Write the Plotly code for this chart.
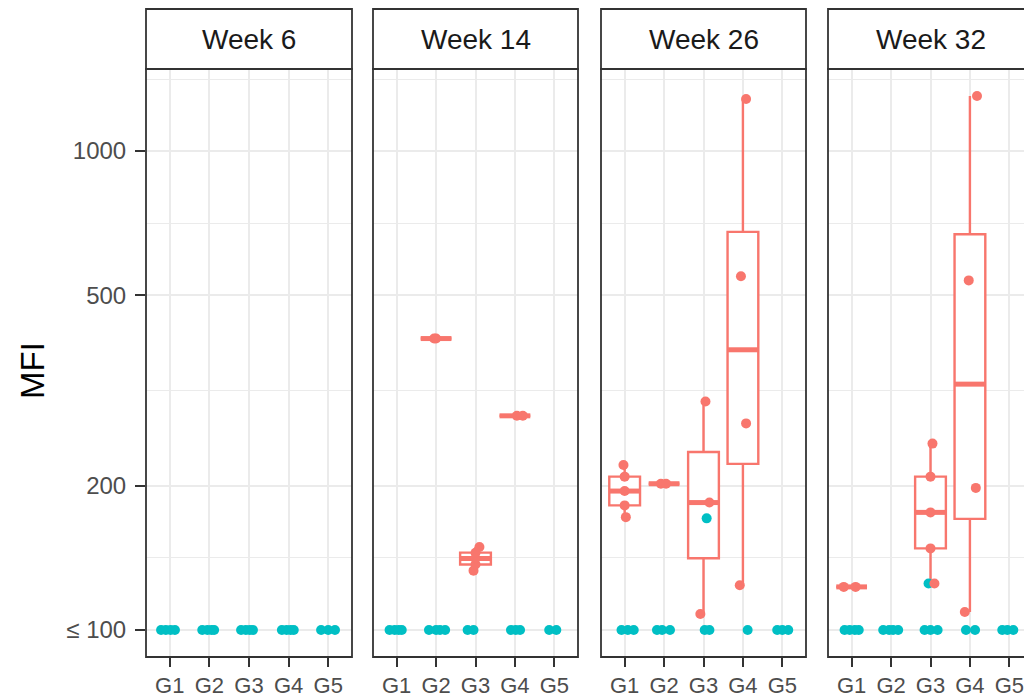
import numpy as np
import plotly.graph_objects as go

WEEKS = ["Week 6", "Week 14", "Week 26", "Week 32"]
GROUPS = ["G1", "G2", "G3", "G4", "G5"]
Y_TICKS = [100, 200, 500, 1000]
Y_TICK_TEXT = ["\u2264 100", "200", "500", "1000"]

# MFI above the detection limit, per group G1..G5 (boxplots + salmon dots)
W6_POS = [[], [], [], [], []]
W14_POS = [[], [406, 406], [133, 137, 141, 145, 149], [280, 280], []]
W26_POS = [[172, 182, 195, 209, 221], [202, 202], [108, 184.5, 300], [124, 270, 548, 1285], []]
W32_POS = [[123, 123], [], [125, 148, 176, 209, 245], [109, 198, 537, 1303], []]

# MFI of the second response class (teal dots); values <= 100 sit on the 100 line
W6_NEG = [[100, 100, 100, 100], [100, 100, 100, 100], [100, 100, 100, 100], [100, 100, 100, 100], [100, 100, 100]]
W14_NEG = [[100, 100, 100, 100], [100, 100, 100, 100], [100, 100], [100, 100, 100], [100, 100]]
W26_NEG = [[100, 100, 100], [100, 100, 100], [100, 100, 171], [100], [100, 100, 100]]
W32_NEG = [[100, 100, 100, 100], [100, 100, 100, 100], [100, 100, 100, 125], [100, 100], [100, 100, 100]]

# fixed horizontal jitter (in category units) for each dot
W6_POS_JIT = [[], [], [], [], []]
W14_POS_JIT = [[], [0.0, -0.05], [-0.05, 0.0, 0.0, 0.0, 0.1], [0.2, 0.05], []]
W26_POS_JIT = [[0.03, 0.0, 0.0, 0.0, -0.03], [-0.08, 0.05], [-0.08, 0.15, 0.05], [-0.08, 0.08, -0.05, 0.08], []]
W32_POS_JIT = [[-0.2, 0.1], [], [0.1, 0.0, 0.0, 0.0, 0.05], [-0.13, 0.15, -0.03, 0.18], []]

W6_NEG_JIT = [[-0.22, -0.1, 0.02, 0.13], [-0.18, -0.05, 0.05, 0.12], [-0.2, -0.08, 0.02, 0.1],
              [-0.17, -0.05, 0.05, 0.13], [-0.18, 0.0, 0.17]]
W14_NEG_JIT = [[-0.18, -0.05, 0.05, 0.13], [-0.18, 0.0, 0.1, 0.23], [-0.2, -0.05], [-0.1, 0.02, 0.13], [-0.13, 0.05]]
W26_NEG_JIT = [[-0.08, 0.08, 0.23], [-0.18, -0.05, 0.15], [0.03, 0.15, 0.08], [0.12], [-0.13, 0.0, 0.15]]
W32_NEG_JIT = [[-0.18, -0.05, 0.08, 0.18], [-0.2, -0.05, 0.05, 0.18], [-0.15, 0.0, 0.18, -0.05],
               [-0.1, 0.13], [-0.18, -0.05, 0.1]]

POS = [W6_POS, W14_POS, W26_POS, W32_POS]
NEG = [W6_NEG, W14_NEG, W26_NEG, W32_NEG]
POS_JIT = [W6_POS_JIT, W14_POS_JIT, W26_POS_JIT, W32_POS_JIT]
NEG_JIT = [W6_NEG_JIT, W14_NEG_JIT, W26_NEG_JIT, W32_NEG_JIT]

RED = "#F8766D"
TEAL = "#00BFC4"
GRID = "#EBEBEB"
DARK = "#333333"

W, H = 1024, 698
# panel pixel extents (left, right); the last facet runs off the canvas
PANELS = [(146, 352), (373, 578), (601, 806), (828, 1033)]
TOP, BOTTOM = 69, 657
STRIP_TOP = 9
BOX_W = 0.78
DOT = 10

Y_LO, Y_HI = np.log10(87.8), np.log10(1484)
major = np.log10(Y_TICKS)
# minor breaks halfway between majors on the log scale
ext = np.concatenate([[2 * major[0] - major[1]], major, [2 * major[-1] - major[-2]]])
minor = (ext[:-1] + ext[1:]) / 2


def box_stats(values):
    """Tukey box statistics on log10 values (type-7 quantiles, 1.5 IQR whiskers)."""
    lv = np.log10(values)
    q1, med, q3 = np.percentile(lv, [25, 50, 75])
    iqr = q3 - q1
    lo = lv[lv >= q1 - 1.5 * iqr].min()
    hi = lv[lv <= q3 + 1.5 * iqr].max()
    return q1, med, q3, lo, hi


fig = go.Figure()
layout = dict(
    width=W, height=H, margin=dict(l=0, r=0, t=0, b=0, autoexpand=False),
    paper_bgcolor="white", plot_bgcolor="white", showlegend=False,
    font=dict(family="Liberation Sans, Arial, sans-serif"),
)
shapes, annotations = [], []
ydom = [1 - BOTTOM / H, 1 - TOP / H]

for i, week in enumerate(WEEKS):
    sfx = "" if i == 0 else str(i + 1)
    xa, ya = "x" + sfx, "y" + sfx
    left, right = PANELS[i]
    px_per_unit = (right - left) / 5.2
    vis_right = min(right, W)
    x_hi = 0.4 + (vis_right - left) / px_per_unit

    # boxplots on the log10 scale
    for g in range(5):
        vals = POS[i][g]
        if not vals:
            continue
        q1, med, q3, lo, hi = box_stats(vals)
        fig.add_trace(go.Box(
            x=[g + 1], q1=[q1], median=[med], q3=[q3], lowerfence=[lo], upperfence=[hi],
            width=BOX_W, line=dict(color=RED, width=2.4), fillcolor="white",
            boxpoints=False, whiskerwidth=0,
            xaxis=xa, yaxis=ya, hoverinfo="skip"))
        fig.add_trace(go.Scatter(
            x=[g + 1 - BOX_W / 2, g + 1 + BOX_W / 2], y=[med, med], mode="lines",
            line=dict(color=RED, width=5), xaxis=xa, yaxis=ya, hoverinfo="skip"))

    # teal dots first, salmon dots on top
    for vals_set, jit_set, col in ((NEG[i], NEG_JIT[i], TEAL), (POS[i], POS_JIT[i], RED)):
        xs, ys = [], []
        for g in range(5):
            for v, j in zip(vals_set[g], jit_set[g]):
                xs.append(g + 1 + j)
                ys.append(np.log10(v))
        if xs:
            fig.add_trace(go.Scatter(
                x=xs, y=ys, mode="markers", marker=dict(color=col, size=DOT, line=dict(width=0)),
                xaxis=xa, yaxis=ya, hoverinfo="skip"))

    layout["xaxis" + sfx] = dict(
        domain=[left / W, vis_right / W], range=[0.4, x_hi], anchor=ya,
        tickmode="array", tickvals=[1, 2, 3, 4, 5], ticktext=GROUPS,
        ticks="outside", ticklen=9, tickwidth=2, tickcolor=DARK,
        tickfont=dict(size=22, color="#4D4D4D"), ticklabelstandoff=0,
        ticklabeloverflow="allow", automargin=False,
        showgrid=True, gridcolor=GRID, gridwidth=2,
        zeroline=False, showline=False, fixedrange=True)
    layout["yaxis" + sfx] = dict(
        domain=ydom, range=[Y_LO, Y_HI], anchor=xa,
        tickmode="array", tickvals=list(major), ticktext=Y_TICK_TEXT,
        showticklabels=(i == 0), ticks="outside" if i == 0 else "",
        ticklen=10, tickwidth=2, tickcolor=DARK,
        tickfont=dict(size=24, color="#4D4D4D"), ticklabelstandoff=4,
        ticklabeloverflow="allow", automargin=False,
        showgrid=True, gridcolor=GRID, gridwidth=2,
        minor=dict(tickmode="array", tickvals=list(minor), showgrid=True,
                   gridcolor=GRID, gridwidth=1.3, ticks=""),
        zeroline=False, showline=False, fixedrange=True)

    # panel frame
    shapes.append(dict(type="rect", xref="paper", yref="paper",
                       x0=left / W, x1=right / W, y0=ydom[0], y1=ydom[1],
                       line=dict(color=DARK, width=1.8), fillcolor="rgba(0,0,0,0)", layer="above"))
    # facet strip
    shapes.append(dict(type="rect", xref="paper", yref="paper",
                       x0=left / W, x1=right / W, y0=1 - TOP / H, y1=1 - STRIP_TOP / H,
                       line=dict(color=DARK, width=1.8), fillcolor="white", layer="above"))
    annotations.append(dict(text=week, xref="paper", yref="paper",
                            x=(left + right) / 2 / W, y=1 - (STRIP_TOP + TOP) / 2 / H,
                            xanchor="center", yanchor="middle", showarrow=False,
                            font=dict(size=28, color="#1A1A1A")))

annotations.append(dict(text="MFI", xref="paper", yref="paper", x=32 / W, y=1 - 371 / H,
                        xanchor="center", yanchor="middle", textangle=-90, showarrow=False,
                        font=dict(size=33, color="black")))

layout["shapes"] = shapes
layout["annotations"] = annotations
fig.update_layout(**layout)
fig.write_html("out.html")
